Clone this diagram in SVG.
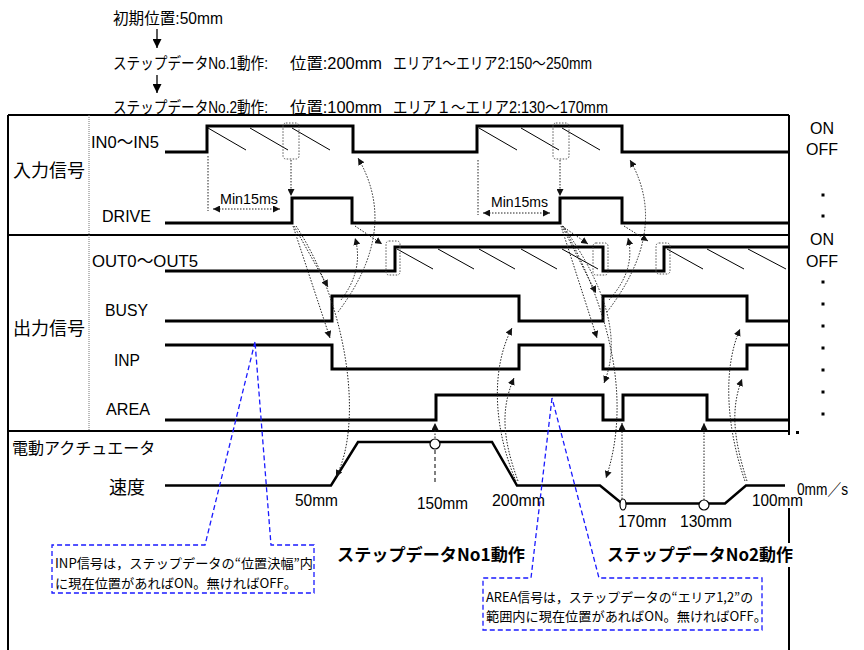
<svg xmlns="http://www.w3.org/2000/svg" width="864" height="650" viewBox="0 0 864 650">
<defs>
<style>
.frame{fill:none;stroke:#000;stroke-width:2}
.sig{fill:none;stroke:#000;stroke-width:3;stroke-linejoin:miter;stroke-linecap:butt}
.spd{fill:none;stroke:#000;stroke-width:2.5;stroke-linejoin:miter}
.hatch{stroke:#000;stroke-width:1}
.dot{fill:none;stroke:#222;stroke-width:1;stroke-dasharray:1.5 1.5}
.box{fill:none;stroke:#555;stroke-width:1;stroke-dasharray:1.5 1.5}
.blue{fill:none;stroke:#1a1aff;stroke-width:1.3;stroke-dasharray:5 3}
.t{font-family:"Liberation Sans","Noto Sans CJK JP",sans-serif;fill:#000}
.j{font-family:"Noto Sans CJK JP","Liberation Sans",sans-serif;fill:#000}
.sl{font-size:17px}
.sp{font-size:16px}
.cl{font-size:13px}
.hd{font-size:17px;font-weight:bold}
.top{font-size:16px}
</style>
<marker id="ah" viewBox="0 0 8 8" refX="8" refY="4" markerWidth="7" markerHeight="7" markerUnits="userSpaceOnUse" orient="auto-start-reverse"><path d="M0,0 L8,4 L0,8 z" fill="#111"/></marker>
<marker id="ahTop" viewBox="0 0 8 8" refX="8" refY="4" markerWidth="9" markerHeight="9" markerUnits="userSpaceOnUse" orient="auto"><path d="M0,0 L8,4 L0,8 z" fill="#000"/></marker>
<clipPath id="c170"><rect x="600" y="505" width="66" height="30"/></clipPath>
</defs>
<rect x="0" y="0" width="864" height="650" fill="#fff"/>

<g id="header">
<text class="t top" x="113" y="24" textLength="110" lengthAdjust="spacingAndGlyphs">初期位置:50mm</text>
<text class="t top" x="113" y="69" textLength="155" lengthAdjust="spacingAndGlyphs">ステップデータNo.1動作:</text>
<text class="t top" x="290" y="69" textLength="92" lengthAdjust="spacingAndGlyphs">位置:200mm</text>
<text class="t top" x="393" y="69" textLength="199" lengthAdjust="spacingAndGlyphs">エリア1〜エリア2:150〜250mm</text>
<text class="t top" x="113" y="113" textLength="155" lengthAdjust="spacingAndGlyphs">ステップデータNo.2動作:</text>
<text class="t top" x="290" y="113" textLength="92" lengthAdjust="spacingAndGlyphs">位置:100mm</text>
<text class="t top" x="393" y="113" textLength="215" lengthAdjust="spacingAndGlyphs">エリア１〜エリア2:130〜170mm</text>
</g>

<g id="frame">
<path class="frame" d="M8,115 H789 M8,115 V650 M789,115 V435 M789,508 V543 M789,567 V650 M8,235 H789 M8,431 H789"/>
<path d="M89,115 V431" stroke="#777" stroke-width="1" stroke-dasharray="1 1" fill="none"/>
</g>

<g id="group-labels">
<text class="j" x="13" y="177" font-size="18">入力信号</text>
<text class="j" x="13" y="335" font-size="18">出力信号</text>
<text class="j" x="12" y="454" font-size="16">電動アクチュエータ</text>
<text class="j" x="109" y="494" font-size="18">速度</text>
</g>

<g id="signal-labels">
<text class="t sl" x="91" y="148" textLength="68" lengthAdjust="spacingAndGlyphs">IN0〜IN5</text>
<text class="t sl" x="102" y="222" textLength="49" lengthAdjust="spacingAndGlyphs">DRIVE</text>
<text class="t sl" x="92" y="267" textLength="106" lengthAdjust="spacingAndGlyphs">OUT0〜OUT5</text>
<text class="t sl" x="105" y="316" textLength="43" lengthAdjust="spacingAndGlyphs">BUSY</text>
<text class="t sl" x="114" y="366" textLength="26" lengthAdjust="spacingAndGlyphs">INP</text>
<text class="t sl" x="106" y="415" textLength="44" lengthAdjust="spacingAndGlyphs">AREA</text>
</g>

<g id="onoff">
<text class="t sp" x="822" y="134" text-anchor="middle">ON</text>
<text class="t sp" x="822" y="155" text-anchor="middle">OFF</text>
<text class="t sp" x="822" y="245" text-anchor="middle">ON</text>
<text class="t sp" x="822" y="267" text-anchor="middle">OFF</text>
<g fill="#000">
<rect x="821.5" y="193.5" width="3" height="3"/>
<rect x="821.5" y="214.5" width="3" height="3"/>
<rect x="821.5" y="280.5" width="3" height="3"/>
<rect x="821.5" y="302.5" width="3" height="3"/>
<rect x="821.5" y="324.5" width="3" height="3"/>
<rect x="821.5" y="346.5" width="3" height="3"/>
<rect x="821.5" y="368.5" width="3" height="3"/>
<rect x="821.5" y="390.5" width="3" height="3"/>
<rect x="821.5" y="412.5" width="3" height="3"/>
<rect x="796" y="431" width="3" height="3"/>
</g>
</g>

<g id="sig-in">
<path class="sig" d="M165,152 H207 V126 H353 V152 H477 V126 H622 V152 H789"/>
<path class="hatch" d="M208,128 L246,150 M250,128 L288,150 M292,128 L330,150 M479,128 L517,150 M521,128 L559,150 M562,128 L600,150"/>
</g>
<g id="sig-drive"><path class="sig" d="M165,223 H292 V198 H352 V223 H560 V198 H622 V223 H789"/></g>
<g id="sig-out">
<path class="sig" d="M165,271 H395 V247 H603 V271 H664 V247 H789"/>
<path class="hatch" d="M397,249 L433,269 M438,249 L474,269 M479,249 L515,269 M521,249 L557,269 M562,249 L598,269 M667,249 L703,269 M707,249 L744,269 M748,249 L786,269"/>
</g>
<g id="sig-busy"><path class="sig" d="M165,321 H332 V296 H519 V321 H603 V296 H747 V321 H789"/></g>
<g id="sig-inp"><path class="sig" d="M165,345 H332 V369 H519 V345 H603 V369 H747 V345 H789"/></g>
<g id="sig-area"><path class="sig" d="M165,420 H436 V395 H603 V420 H623 V395 H707 V420 H789"/></g>
<g id="sig-speed">
<path class="spd" d="M165,485.5 H331 L358,442 H492 L517,485.5 H600 L622,503.5 H725 L746,485.5 H785"/>
<circle cx="435" cy="444" r="5" fill="#fff" stroke="#000" stroke-width="1.2"/>
<ellipse cx="623" cy="504.5" rx="3" ry="5.5" fill="#fff" stroke="#000" stroke-width="1.2"/>
<circle cx="704" cy="505" r="5" fill="#fff" stroke="#000" stroke-width="1.2"/>
</g>

<g id="markers">
<rect class="box" x="283" y="123" width="16" height="36" rx="3"/>
<rect class="box" x="553" y="123" width="16" height="36" rx="3"/>
<rect class="box" x="386" y="241" width="14" height="34" rx="3"/>
<rect class="box" x="593" y="243" width="15" height="32" rx="3"/>
<rect class="box" x="656" y="243" width="14" height="31" rx="3"/>
</g>

<g id="speed-labels">
<text class="t sp" x="295" y="506" textLength="43" lengthAdjust="spacingAndGlyphs">50mm</text>
<text class="t sp" x="417" y="509" textLength="51" lengthAdjust="spacingAndGlyphs">150mm</text>
<text class="t sp" x="492" y="506" textLength="53" lengthAdjust="spacingAndGlyphs">200mm</text>
<text class="t sp" x="618" y="527" textLength="53" lengthAdjust="spacingAndGlyphs" clip-path="url(#c170)">170mm</text>
<text class="t sp" x="680" y="527" textLength="52" lengthAdjust="spacingAndGlyphs">130mm</text>
<text class="t sp" x="752" y="506" textLength="51" lengthAdjust="spacingAndGlyphs">100mm</text>
<text class="t sp" x="797" y="495" textLength="51" lengthAdjust="spacingAndGlyphs">0mm／s</text>
</g>

<g id="min15ms">
<text class="t" font-size="14" x="220" y="204" textLength="58" lengthAdjust="spacingAndGlyphs">Min15ms</text>
<text class="t" font-size="14" x="491" y="207" textLength="57" lengthAdjust="spacingAndGlyphs">Min15ms</text>
</g>

<g id="headings">
<text class="j hd" x="337" y="561" textLength="188" lengthAdjust="spacingAndGlyphs">ステップデータNo1動作</text>
<text class="j hd" x="607" y="561" textLength="186" lengthAdjust="spacingAndGlyphs">ステップデータNo2動作</text>
</g>

<g id="connectors">
<line x1="157" y1="29" x2="157" y2="48" stroke="#000" stroke-width="1.3" marker-end="url(#ahTop)"/>
<line x1="157" y1="75" x2="157" y2="93" stroke="#000" stroke-width="1.3" marker-end="url(#ahTop)"/>
<path class="dot" d="M291,160 V196" marker-end="url(#ah)"/>
<path class="dot" d="M560,160 V196" marker-end="url(#ah)"/>
<path class="dot" d="M208,156 V211"/>
<path class="dot" d="M213,209 H280" marker-start="url(#ah)" marker-end="url(#ah)"/>
<path class="dot" d="M478,160 V215"/>
<path class="dot" d="M483,213 H550" marker-start="url(#ah)" marker-end="url(#ah)"/>
<path class="dot" d="M294,226 L328,287" marker-end="url(#ah)"/>
<path class="dot" d="M293,226 L330,338" marker-end="url(#ah)"/>
<path class="dot" d="M296,226 C345,300 365,420 336,477" marker-end="url(#ah)"/>
<path class="dot" d="M338,312 Q400,230 358,158" marker-end="url(#ah)"/>
<path class="dot" d="M341,300 Q364,270 355,238" marker-end="url(#ah)"/>
<path class="dot" d="M355,226 L382,244" marker-end="url(#ah)"/>
<path class="dot" d="M516,481 C494,430 490,370 512,328" marker-end="url(#ah)"/>
<path class="dot" d="M518,481 C503,440 500,410 514,378" marker-end="url(#ah)"/>
<path class="dot" d="M435,438 V423" marker-end="url(#ah)"/>
<path d="M435,450 V485" fill="none" stroke="#555" stroke-width="1.5" stroke-dasharray="4 3"/>
<path class="dot" d="M562,226 L588,244" marker-end="url(#ah)"/>
<path class="dot" d="M562,226 L596,293" marker-end="url(#ah)"/>
<path class="dot" d="M561,226 L597,338" marker-end="url(#ah)"/>
<path class="dot" d="M563,226 Q630,320 604,383" marker-end="url(#ah)"/>
<path class="dot" d="M563,226 C610,310 632,400 606,478" marker-end="url(#ah)"/>
<path class="dot" d="M607,312 Q670,230 630,160" marker-end="url(#ah)"/>
<path class="dot" d="M609,300 Q636,270 628,238" marker-end="url(#ah)"/>
<path class="dot" d="M624,226 L648,241" marker-end="url(#ah)"/>
<path class="dot" d="M745,481 C727,430 722,370 740,329" marker-end="url(#ah)"/>
<path class="dot" d="M747,481 C734,440 730,410 742,379" marker-end="url(#ah)"/>
<path class="dot" d="M622,499 V423" marker-end="url(#ah)"/>
<path class="dot" d="M704,500 V423" marker-end="url(#ah)"/>
</g>

<g id="callout-inp">
<path class="blue" d="M255,342 L205,545 H52 V593 H314 V545 H271 L255,342"/>
<text class="j cl" x="55" y="568" textLength="258" lengthAdjust="spacingAndGlyphs">INP信号は，ステップデータの“位置決幅”内</text>
<text class="j cl" x="55" y="588" textLength="242" lengthAdjust="spacingAndGlyphs">に現在位置があればON。無ければOFF。</text>
</g>

<g id="callout-area">
<path class="blue" d="M552,398 L531,578 H483 V630 H762 V578 H599 L552,398"/>
<text class="j cl" x="486" y="602" textLength="267" lengthAdjust="spacingAndGlyphs">AREA信号は，ステップデータの“エリア1,2”の</text>
<text class="j cl" x="486" y="621" textLength="281" lengthAdjust="spacingAndGlyphs">範囲内に現在位置があればON。無ければOFF。</text>
</g>
</svg>
